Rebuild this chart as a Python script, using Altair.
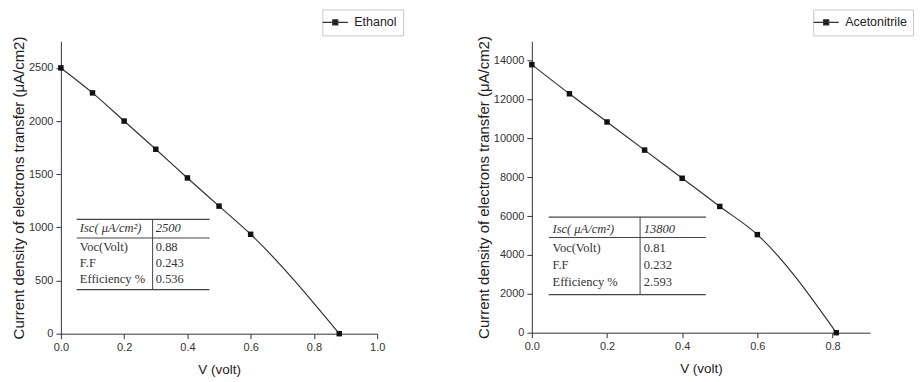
import altair as alt
import pandas as pd

# ---------------- data ----------------
eth_v = [0.0, 0.1, 0.2, 0.3, 0.4, 0.5, 0.6, 0.88]
eth_j = [2500, 2265, 2000, 1735, 1465, 1200, 935, 0]
ace_v = [0.0, 0.1, 0.2, 0.3, 0.4, 0.5, 0.6, 0.81]
ace_j = [13800, 12300, 10850, 9400, 7950, 6500, 5050, 0]

table_params = ["Isc( μA/cm²)", "Voc(Volt)", "F.F", "Efficiency %"]
eth_values = ["2500", "0.88", "0.243", "0.536"]
ace_values = ["13800", "0.81", "0.232", "2.593"]

eth_x_ticks = [0.0, 0.1, 0.2, 0.3, 0.4, 0.5, 0.6, 0.7, 0.8, 0.9, 1.0]
eth_y_ticks = [0, 250, 500, 750, 1000, 1250, 1500, 1750, 2000, 2250, 2500, 2750]
ace_x_ticks = [0.0, 0.1, 0.2, 0.3, 0.4, 0.5, 0.6, 0.7, 0.8, 0.9]
ace_y_ticks = [0, 1000, 2000, 3000, 4000, 5000, 6000, 7000, 8000, 9000,
               10000, 11000, 12000, 13000, 14000, 15000]

Y_TITLE = "Current density of electrons transfer (μA/cm2)"
X_TITLE = "V (volt)"

LEGEND_PATH = ("M-2.1,0L2.1,0"
               "M-0.42,-0.42L0.42,-0.42L0.42,0.42L-0.42,0.42Z")


def major_test(step):
    return f"abs(datum.value / {step} - round(datum.value / {step})) < 1e-6"


def make_axis(ticks, step, title, fmt, title_pad):
    test = major_test(step)
    return alt.Axis(
        values=ticks,
        title=title,
        labelExpr=f"({test}) ? format(datum.value, '{fmt}') : ''",
        tickSize={"condition": {"test": test, "value": 5}, "value": 3},
        labelOverlap=False,
        labelFlush=False,
        grid=False,
        titlePadding=title_pad,
    )


def panel(name, v, j, vals, x_max, x_ticks, y_max, y_ticks, y_step,
          w, h, tbl, legend_x):
    df = pd.DataFrame({"V": v, "J": j, "series": [name] * len(v)})
    xs = alt.Scale(domain=[0, x_max], nice=False, zero=True)
    ys = alt.Scale(domain=[0, y_max], nice=False, zero=True)
    x_enc = alt.X("V:Q", scale=xs, axis=make_axis(x_ticks, 0.2, X_TITLE, ".1f", 10))
    y_enc = alt.Y("J:Q", scale=ys, axis=make_axis(y_ticks, y_step, Y_TITLE, "d", 2))

    line = alt.Chart(df).mark_line(interpolate="monotone", strokeWidth=1.2).encode(
        x=x_enc,
        y=y_enc,
        color=alt.Color(
            "series:N",
            scale=alt.Scale(range=["#333333"]),
            legend=alt.Legend(
                title=None,
                orient="none",
                legendX=legend_x,
                legendY=-32,
                symbolType=LEGEND_PATH,
                symbolSize=144,
                symbolStrokeWidth=1.2,
                symbolFillColor="#111111",
                symbolStrokeColor="#222222",
                strokeColor="#c8c8c8",
                fillColor="white",
                padding=6,
                labelFont="Liberation Sans",
                labelFontSize=12.5,
                labelColor="#222222",
                labelOffset=12,
            ),
        ),
    )
    pts = alt.Chart(df).mark_square(size=30, color="#111111", opacity=1).encode(
        x="V:Q", y="J:Q"
    )

    # inset table (positions in data units)
    x_left, x_sep, x_right, y_top, y_mid, y_bot, rows, pad = tbl
    rules_h = pd.DataFrame({"x": [x_left] * 3, "x2": [x_right] * 3,
                            "y": [y_top, y_mid, y_bot]})
    rule_v = pd.DataFrame({"x": [x_sep], "y": [y_top], "y2": [y_bot]})
    cells = pd.DataFrame({
        "param": table_params,
        "value": vals,
        "y": rows,
        "xa": [x_left + pad] * 4,
        "xb": [x_sep + pad] * 4,
        "italic": [True, False, False, False],
    })
    hr = alt.Chart(rules_h).mark_rule(color="#444444", strokeWidth=1.2).encode(
        x="x:Q", x2="x2:Q", y="y:Q")
    vr = alt.Chart(rule_v).mark_rule(color="#444444", strokeWidth=1).encode(
        x="x:Q", y="y:Q", y2="y2:Q")
    txt_style = dict(font="Liberation Serif", fontSize=12.5, color="#333333",
                     align="left", baseline="middle")
    head = alt.Chart(cells).transform_filter("datum.italic").mark_text(
        fontStyle="italic", **txt_style)
    body = alt.Chart(cells).transform_filter("!datum.italic").mark_text(**txt_style)
    t1 = head.encode(x="xa:Q", y="y:Q", text="param:N")
    t2 = head.encode(x="xb:Q", y="y:Q", text="value:N")
    t3 = body.encode(x="xa:Q", y="y:Q", text="param:N")
    t4 = body.encode(x="xb:Q", y="y:Q", text="value:N")

    return alt.layer(line, pts, hr, vr, t1, t2, t3, t4).properties(width=w, height=h)


eth_tbl = (0.05, 0.29, 0.47, 1075, 900, 415, [990, 815, 665, 515], 0.01)
ace_tbl = (0.045, 0.288, 0.463, 5950, 4900, 1960, [5350, 4380, 3490, 2600], 0.01)

left = panel("Ethanol", eth_v, eth_j, eth_values, 1.0, eth_x_ticks, 2750,
             eth_y_ticks, 500, 317, 293, eth_tbl, 262)
right = panel("Acetonitrile", ace_v, ace_j, ace_values, 0.9, ace_x_ticks, 15000,
              ace_y_ticks, 2000, 339, 292, ace_tbl, 282)

chart = (
    alt.hconcat(left, right, spacing=72)
    .resolve_scale(color="independent")
    .properties(padding={"left": 3, "top": 0, "right": 0, "bottom": 0})
    .configure_view(stroke=None)
    .configure_axis(
        domainColor="#333333",
        tickColor="#333333",
        labelColor="#333333",
        titleColor="#222222",
        labelFont="Liberation Sans",
        labelFontSize=11,
        titleFont="Liberation Sans",
        titleFontWeight="normal",
        labelPadding=3,
    )
    .configure_axisX(titleFontSize=13.5)
    .configure_axisY(titleFontSize=15)
)

chart.save("out.html", embed_options={"renderer": "svg", "actions": False})
